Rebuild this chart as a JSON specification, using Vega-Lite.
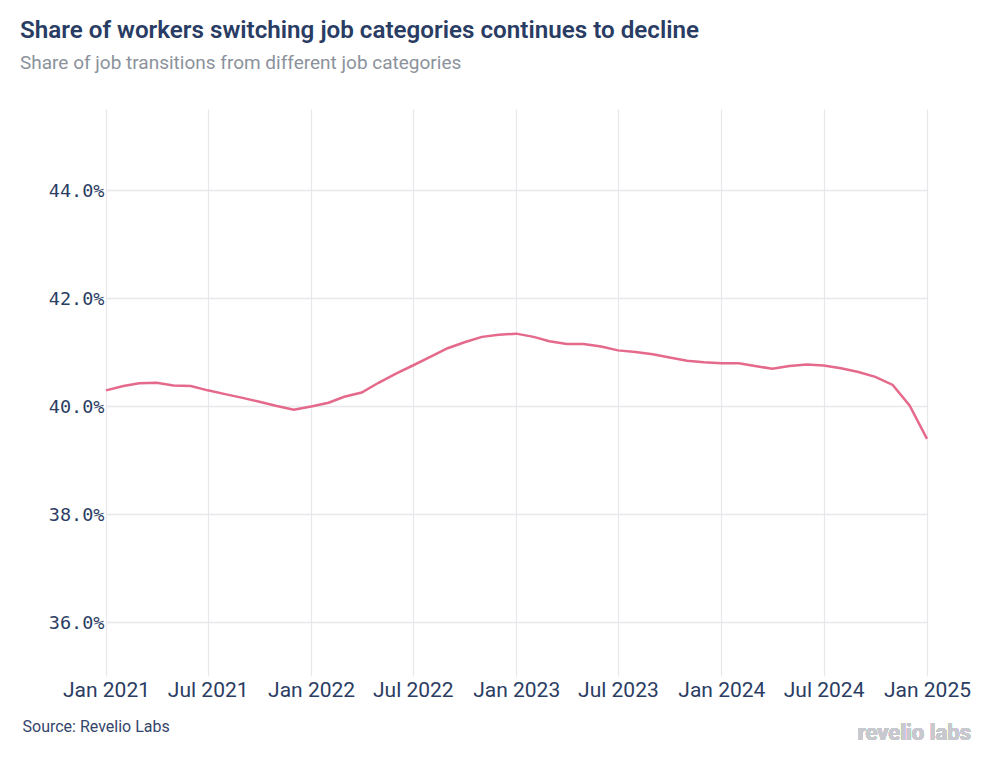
{
  "$schema": "https://vega.github.io/schema/vega-lite/v6.json",
  "width": 821,
  "height": 567,
  "autosize": {"type": "none"},
  "padding": {"left": 106, "top": 109, "right": 64, "bottom": 84},
  "background": "white",
  "title": {
    "text": "Share of workers switching job categories continues to decline",
    "subtitle": "Share of job transitions from different job categories",
    "anchor": "start",
    "frame": "group",
    "dx": -86,
    "offset": 36,
    "font": "Roboto",
    "fontSize": 24.2,
    "fontWeight": 600,
    "color": "#283c64",
    "subtitleFont": "Roboto",
    "subtitleFontSize": 19,
    "subtitleColor": "#8b929b",
    "subtitlePadding": 11
  },
  "config": {
    "view": {"stroke": null},
    "axis": {"domain": false, "ticks": false}
  },
  "data": {
    "values": [
      {"date": "2021-01-01", "share": 40.29},
      {"date": "2021-02-01", "share": 40.37},
      {"date": "2021-03-01", "share": 40.42},
      {"date": "2021-04-01", "share": 40.43},
      {"date": "2021-05-01", "share": 40.38},
      {"date": "2021-06-01", "share": 40.37},
      {"date": "2021-07-01", "share": 40.29},
      {"date": "2021-08-01", "share": 40.22},
      {"date": "2021-09-01", "share": 40.15},
      {"date": "2021-10-01", "share": 40.08},
      {"date": "2021-11-01", "share": 40.0},
      {"date": "2021-12-01", "share": 39.93},
      {"date": "2022-01-01", "share": 39.99},
      {"date": "2022-02-01", "share": 40.06},
      {"date": "2022-03-01", "share": 40.17},
      {"date": "2022-04-01", "share": 40.25},
      {"date": "2022-05-01", "share": 40.43},
      {"date": "2022-06-01", "share": 40.6},
      {"date": "2022-07-01", "share": 40.75},
      {"date": "2022-08-01", "share": 40.91},
      {"date": "2022-09-01", "share": 41.07},
      {"date": "2022-10-01", "share": 41.18},
      {"date": "2022-11-01", "share": 41.28},
      {"date": "2022-12-01", "share": 41.32},
      {"date": "2023-01-01", "share": 41.34},
      {"date": "2023-02-01", "share": 41.28},
      {"date": "2023-03-01", "share": 41.2},
      {"date": "2023-04-01", "share": 41.15},
      {"date": "2023-05-01", "share": 41.15},
      {"date": "2023-06-01", "share": 41.1},
      {"date": "2023-07-01", "share": 41.03},
      {"date": "2023-08-01", "share": 41.0},
      {"date": "2023-09-01", "share": 40.96},
      {"date": "2023-10-01", "share": 40.9},
      {"date": "2023-11-01", "share": 40.84},
      {"date": "2023-12-01", "share": 40.81},
      {"date": "2024-01-01", "share": 40.79},
      {"date": "2024-02-01", "share": 40.79},
      {"date": "2024-03-01", "share": 40.74},
      {"date": "2024-04-01", "share": 40.69},
      {"date": "2024-05-01", "share": 40.74},
      {"date": "2024-06-01", "share": 40.77},
      {"date": "2024-07-01", "share": 40.75},
      {"date": "2024-08-01", "share": 40.7},
      {"date": "2024-09-01", "share": 40.63},
      {"date": "2024-10-01", "share": 40.54},
      {"date": "2024-11-01", "share": 40.39},
      {"date": "2024-12-01", "share": 40.01},
      {"date": "2025-01-01", "share": 39.39}
    ]
  },
  "layer": [
    {
      "mark": {"type": "line", "color": "#e5698a", "strokeWidth": 2.5, "clip": false},
      "encoding": {
        "x": {
          "field": "date",
          "type": "temporal",
          "scale": {
            "type": "utc",
            "domain": [
              {"year": 2021, "month": 1, "date": 1, "utc": true},
              {"year": 2025, "month": 1, "date": 1, "utc": true}
            ]
          },
          "axis": {
            "labelExpr": "utcFormat(datum.value, '%b %Y')",
            "tickCount": {"interval": "month", "step": 6},
            "labelFont": "Roboto",
            "labelFontSize": 21,
            "labelColor": "#2b3d63",
            "labelPadding": 3,
            "labelOverlap": false,
            "labelFlush": false,
            "grid": true,
            "gridColor": "#e8e8ec",
            "gridWidth": 1.2,
            "title": "Source: Revelio Labs",
            "titleFont": "Roboto",
            "titleFontSize": 16,
            "titleFontWeight": "normal",
            "titleColor": "#34456b",
            "titleAnchor": "start",
            "titleAlign": "left",
            "titleBaseline": "middle",
            "titleX": -84,
            "titleY": 50
          }
        },
        "y": {
          "field": "share",
          "type": "quantitative",
          "scale": {"domain": [35, 45.5], "nice": false, "zero": false},
          "axis": {
            "values": [36, 38, 40, 42, 44],
            "labelExpr": "format(datum.value, '.1f') + '%'",
            "labelFont": "DejaVu Sans Mono",
            "labelFontSize": 18.5,
            "labelColor": "#2b3d63",
            "labelPadding": 2,
            "grid": true,
            "gridColor": "#e8e8ec",
            "gridWidth": 1.6,
            "title": null
          }
        }
      }
    },
    {
      "mark": {
        "type": "text",
        "text": "revelio labs",
        "font": "Roboto",
        "fontSize": 22,
        "fontWeight": "bold",
        "color": "#c8c9ce",
        "align": "right",
        "baseline": "middle",
        "dx": 44,
        "dy": 57,
        "clip": false
      },
      "encoding": {
        "x": {"datum": {"year": 2025, "month": 1, "date": 1, "utc": true}, "type": "temporal"},
        "y": {"datum": 35, "type": "quantitative"}
      }
    }
  ]
}
